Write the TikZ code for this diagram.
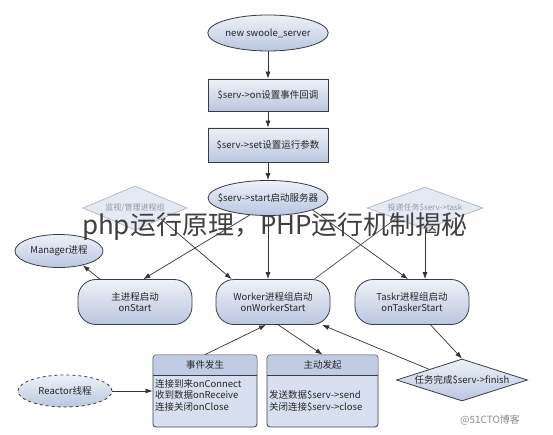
\documentclass[tikz,border=0pt]{standalone}
\usepackage{fontspec}
\setmainfont{Noto Sans CJK SC}
\usetikzlibrary{shapes.geometric}
\usetikzlibrary{arrows.meta}

\definecolor{nodetop}{RGB}{238,241,248}
\definecolor{nodebottom}{RGB}{186,198,224}
\definecolor{nodeline}{RGB}{58,60,68}
\definecolor{fadefill}{RGB}{228,233,244}
\definecolor{fadeline}{RGB}{178,181,190}
\definecolor{fadetext}{RGB}{150,152,162}
\definecolor{headfill}{RGB}{192,203,228}
\definecolor{bodyfill}{RGB}{216,223,240}

\begin{document}
\begin{tikzpicture}[
  x=1pt, y=-1pt,
  every node/.style={font=\fontsize{9.5}{11.5}\selectfont, text=black!85},
  boxfill/.style={draw=nodeline, line width=0.8pt, top color=nodetop, bottom color=nodebottom},
  oval/.style={boxfill, ellipse, inner sep=0pt},
  stepbox/.style={boxfill, rectangle, minimum width=120, minimum height=32, inner sep=0pt},
  pill/.style={boxfill, rectangle, rounded corners=18pt, minimum width=114, minimum height=45, align=center, inner sep=0pt},
  fadedia/.style={diamond, draw=fadeline, fill=fadefill, line width=0.7pt, inner sep=0pt},
  fadelabel/.style={text=fadetext, font=\fontsize{8}{10}\selectfont},
  eventbox/.style={draw=nodeline, line width=0.8pt, fill=bodyfill, rounded corners=3pt, minimum height=72, inner sep=0pt},
  eventhead/.style={fill=headfill, rounded corners=2pt, minimum height=20, inner sep=0pt, anchor=north},
  eventbody/.style={anchor=north west, align=left, inner sep=1.5pt},
  link/.style={draw=black!80, line width=0.7pt, -{Latex[length=7pt,width=5pt]}},
  plainlink/.style={draw=black!70, line width=0.7pt},
]
  \fill[white] (0,0) rectangle (553,435);
  \useasboundingbox (0,0) rectangle (553,435);

  % start-up chain
  \node[oval, minimum width=120, minimum height=36] (new) at (268,33) {new swoole\_server};
  \node[stepbox] (on) at (268,95) {\$serv->on设置事件回调};
  \node[stepbox, minimum height=34] (set) at (268,145) {\$serv->set设置运行参数};
  \node[
    oval,
    minimum width=120,
    minimum height=35,
    label={center:\$serv->start启动服务器},
  ] (start) at (268,198) {};

  \node[
    fadedia,
    minimum width=104,
    minimum height=44,
    label={[fadelabel]center:监视/管理进程组},
  ] (ldia) at (135,208) {};
  \node[
    fadedia,
    minimum width=116,
    minimum height=42,
    label={[fadelabel]center:投递任务\$serv->task},
  ] (rdia) at (425,208) {};

  % processes
  \node[oval, minimum width=88, minimum height=33] (manager) at (59,251) {Manager进程};
  \node[pill] (master) at (135,302) {主进程启动\\onStart};
  \node[pill] (worker) at (273,302) {Worker进程组启动\\onWorkerStart};
  \node[pill] (taskr) at (412,302) {Taskr进程组启动\\onTaskerStart};

  \node[oval, dashed, minimum width=94, minimum height=32] (reactor) at (65,391) {Reactor线程};

  % event boxes
  \node[eventbox, minimum width=104] (evt) at (205,391) {};
  \node[eventhead, minimum width=103] (evthead) at ([yshift=-0.5pt]evt.north) {事件发生};
  \draw[draw=nodeline, line width=0.8pt] (evthead.south west) -- (evthead.south east);
  \node[eventbody] (evtbody) at ([yshift=-2pt]evthead.south west) {连接到来onConnect\\收到数据onReceive\\连接关闭onClose};

  \node[eventbox, minimum width=111] (act) at (322.5,391) {};
  \node[eventhead, minimum width=110] (acthead) at ([yshift=-0.5pt]act.north) {主动发起};
  \draw[draw=nodeline, line width=0.8pt] (acthead.south west) -- (acthead.south east);
  \node[eventbody] (actbody) at ([yshift=-13.5pt]acthead.south west) {发送数据\$serv->send\\关闭连接\$serv->close};

  \node[
    boxfill,
    diamond,
    inner sep=0pt,
    minimum width=131,
    minimum height=42,
    label={center:任务完成\$serv->finish},
  ] (finish) at (462,380) {};

  % connectors
  \draw[link] (new) -- (on);
  \draw[link] (on) -- (set);
  \draw[link] (set) -- (start);
  \draw[link] (start.223) -- (master.70);
  \draw[link] (ldia.south east) -- (worker.151);
  \draw[link] (start.south) -- (start.south |- worker.north);
  \draw[link] (start.345) -- (taskr.100);
  \draw[link] (rdia.south) -- (rdia.south |- taskr.north);
  \draw[plainlink] (rdia.south west) -- (worker.29);
  \draw[link] (master.147) -- (manager.-31);
  \draw[link] (evt.north) -- (worker.253);
  \draw[link] (worker.283) -- (act.north);
  \draw[link] (taskr.-51) -- (finish.north);
  \draw[link] (finish.north west) -- (worker.-25);
  \draw[link] (reactor) -- (evt);

  % overlay texts
  \node[text=black!75, font=\fontsize{26}{30}\selectfont] (title) at (275,227) {php运行原理，PHP运行机制揭秘};
  \node[text=black!45, font=\fontsize{10}{12}\selectfont] (mark) at (490,420) {@51CTO博客};
\end{tikzpicture}
\end{document}
